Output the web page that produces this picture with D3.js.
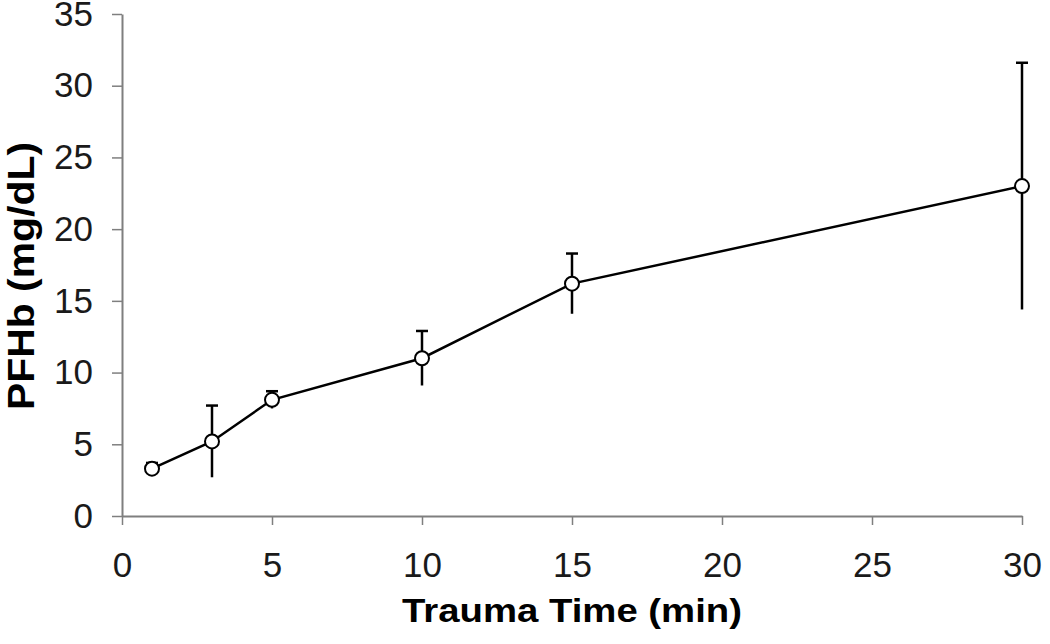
<!DOCTYPE html>
<html>
<head>
<meta charset="utf-8">
<script src="https://cdn.jsdelivr.net/npm/d3@7"></script>
<style>
  body { margin: 0; background: #fff; }
  text { font-family: "Liberation Sans", Arial, sans-serif; }
</style>
</head>
<body>
<div id="chart"></div>
<script>
// trauma time (min) vs plasma free hemoglobin
var times = [1, 3, 5, 10, 15, 30];
var pfhb = [3.3, 5.2, 8.1, 11.0, 16.2, 23.0];
var errs = [0.4, 2.5, 0.6, 1.9, 2.1, 8.6];
var xTicks = [0, 5, 10, 15, 20, 25, 30];
var yTicks = [0, 5, 10, 15, 20, 25, 30, 35];

var width = 1050, height = 644;
var mLeft = 122, mRight = 1022, mTop = 14, mBottom = 516;

var svg = d3.select("#chart").append("svg")
    .attr("width", width)
    .attr("height", height);

var x = d3.scaleLinear().domain([0, 30]).range([mLeft, mRight]);
var y = d3.scaleLinear().domain([0, 35]).range([mBottom, mTop]);

var axisColor = "#7f7f7f";

var gx = svg.append("g")
    .attr("transform", "translate(0," + mBottom + ")")
    .call(d3.axisBottom(x).tickValues(xTicks).tickSize(9).tickPadding(27).tickSizeOuter(0));

var gy = svg.append("g")
    .attr("transform", "translate(" + mLeft + ",0)")
    .call(d3.axisLeft(y).tickValues(yTicks).tickSize(10).tickPadding(19).tickSizeOuter(0));

[gx, gy].forEach(function(g){
    g.select(".domain").attr("stroke", axisColor).attr("stroke-width", 2);
    g.selectAll(".tick line").attr("stroke", axisColor).attr("stroke-width", 1.5);
    g.selectAll(".tick text")
        .attr("fill", "#1a1a1a")
        .style("font-size", "35px")
        .style("font-family", "'Liberation Sans', Arial, sans-serif");
});

// error bars: upper with cap, lower plain
var pts = times.map(function(t, i){
    return {t: t, v: pfhb[i], e: errs[i]};
});

svg.append("g").selectAll("line")
    .data(pts)
    .enter()
    .append("line")
    .attr("x1", function(d){ return x(d.t); })
    .attr("x2", function(d){ return x(d.t); })
    .attr("y1", function(d){ return y(d.v - d.e); })
    .attr("y2", function(d){ return y(d.v + d.e); })
    .attr("stroke", "#000")
    .attr("stroke-width", 2.5);

svg.append("g").selectAll("line")
    .data(pts)
    .enter()
    .append("line")
    .attr("x1", function(d){ return x(d.t) - 6; })
    .attr("x2", function(d){ return x(d.t) + 6; })
    .attr("y1", function(d){ return y(d.v + d.e); })
    .attr("y2", function(d){ return y(d.v + d.e); })
    .attr("stroke", "#000")
    .attr("stroke-width", 2.5);

var line = d3.line()
    .x(function(d){ return x(d.t); })
    .y(function(d){ return y(d.v); });

svg.append("path")
    .datum(pts)
    .attr("d", line)
    .attr("fill", "none")
    .attr("stroke", "#000")
    .attr("stroke-width", 2.5);

svg.append("g").selectAll("circle")
    .data(pts)
    .enter()
    .append("circle")
    .attr("cx", function(d){ return x(d.t); })
    .attr("cy", function(d){ return y(d.v); })
    .attr("r", 7)
    .attr("fill", "#fff")
    .attr("stroke", "#000")
    .attr("stroke-width", 2);

svg.append("text")
    .attr("x", 572)
    .attr("y", 622)
    .attr("text-anchor", "middle")
    .attr("textLength", 340)
    .attr("lengthAdjust", "spacingAndGlyphs")
    .style("font-size", "33px")
    .style("font-weight", "bold")
    .text("Trauma Time (min)");

svg.append("text")
    .attr("transform", "translate(34,276) rotate(-90)")
    .attr("text-anchor", "middle")
    .attr("textLength", 268)
    .attr("lengthAdjust", "spacingAndGlyphs")
    .style("font-size", "36px")
    .style("font-weight", "bold")
    .text("PFHb (mg/dL)");
</script>
</body>
</html>
